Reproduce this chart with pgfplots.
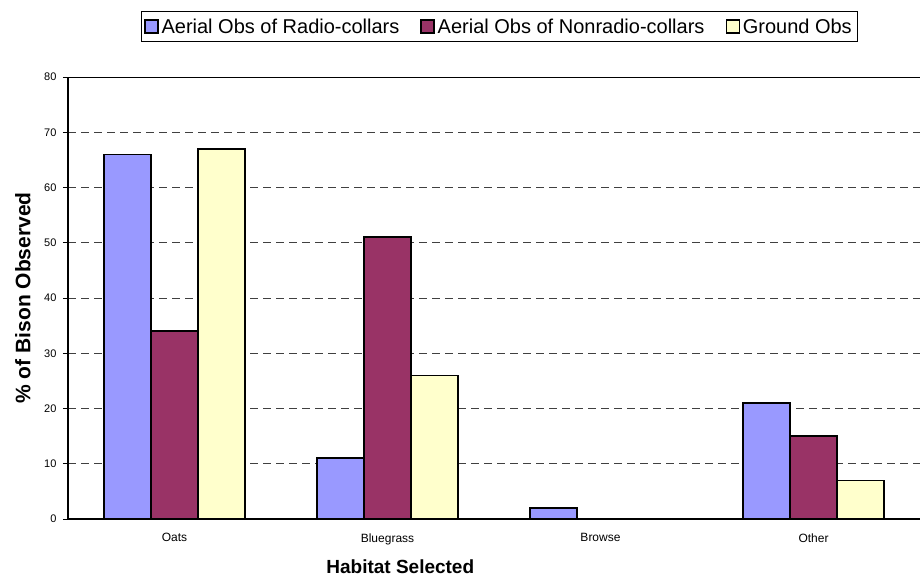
\documentclass[border=0pt]{standalone}
\usepackage{pgfplots}
\pgfplotsset{compat=1.18}
\usepackage{fontspec}
\setmainfont{Liberation Sans}
\definecolor{radio}{HTML}{9999FF}
\definecolor{nonradio}{HTML}{993366}
\definecolor{ground}{HTML}{FFFFCC}
\begin{document}
\begin{tikzpicture}[x=1pt,y=1pt]
\path[use as bounding box] (0,0) rectangle (920,584);
\begin{axis}[
    at={(68pt,65pt)}, anchor=south west,
    scale only axis,
    width=852pt, height=442pt,
    ybar=0pt, bar width=47pt,
    xmin=-0.5, xmax=3.5,
    ymin=0, ymax=80,
    xtick={0,1,2,3},
    xticklabels={Oats,Bluegrass,Browse,Other},
    ytick={0,10,...,80},
    extra x ticks={0.5,1.5,2.5},
    extra x tick labels={},
    extra x tick style={major tick length=5pt, tick style={black, line width=0.8pt}},
    major x tick style={draw=none},
    ytick style={black, line width=0.8pt},
    major tick length=5pt,
    tick pos=left,
    tick align=outside,
    axis x line*=bottom,
    axis y line*=left,
    axis line style={black, line width=1.2pt, -},
    ymajorgrids,
    grid style={black!75, line width=0.7pt, dash pattern=on 8pt off 5pt},
    ticklabel style={font=\fontsize{11}{13}\selectfont},
    yticklabel style={xshift=-3pt},
    xticklabel style={font=\fontsize{12}{14}\selectfont, yshift=-6pt},
    /pgf/number format/assume math mode=true,
    xlabel={\textbf{Habitat Selected}},
    ylabel={\textbf{\% of Bison Observed}},
    xlabel style={font=\fontsize{19}{21}\selectfont, at={(axis description cs:0.39,-0.1086)}, anchor=center},
    ylabel style={font=\fontsize{21}{23}\selectfont, at={(axis description cs:-0.053,0.5)}, anchor=center},
    legend columns=3,
    legend style={at={(0.5,1)}, anchor=south, xshift=5.5pt, yshift=35pt,
        draw=black, line width=1pt, font=\fontsize{20}{22}\selectfont,
        inner xsep=3pt, inner ysep=5pt,
        nodes={inner xsep=3pt},
        /tikz/every even column/.append style={column sep=18pt}},
    legend image code/.code={\draw[#1, draw=black, line width=1.3pt] (0pt,-6.5pt) rectangle (13pt,6.5pt);},
    every axis plot/.append style={draw=black, line width=1.6pt},
]
\draw[black, line width=1.2pt] (axis cs:-0.5,80) -- (axis cs:3.5,80);
\addplot[fill=radio] coordinates {(0,66) (1,11) (2,2) (3,21)};
\addplot[fill=nonradio] coordinates {(0,34) (1,51) (2,0) (3,15)};
\addplot[fill=ground] coordinates {(0,67) (1,26) (2,0) (3,7)};
\legend{Aerial Obs of Radio-collars,Aerial Obs of Nonradio-collars,Ground Obs}
\end{axis}
\end{tikzpicture}
\end{document}
